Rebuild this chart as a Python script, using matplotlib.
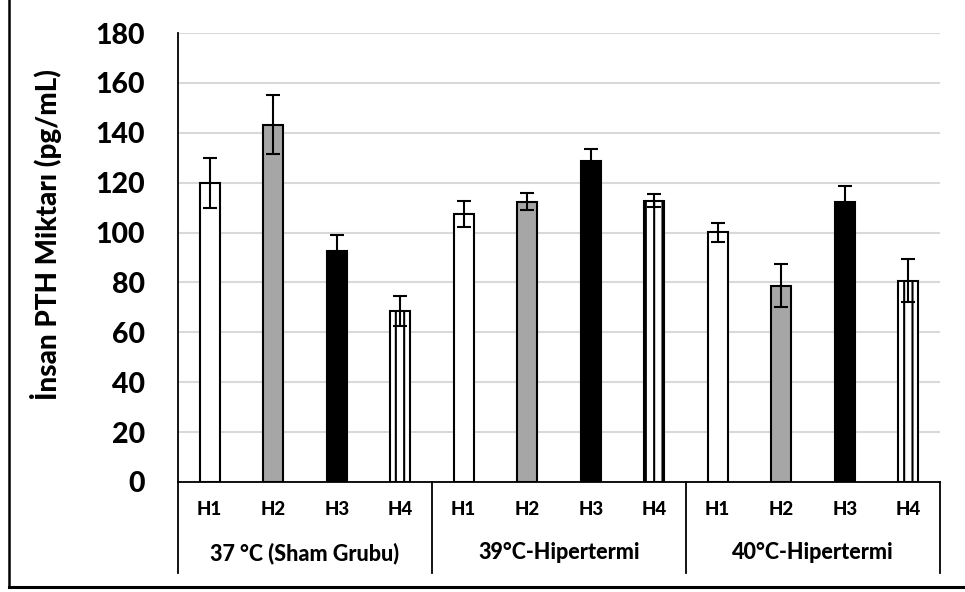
import matplotlib.pyplot as plt
import matplotlib.lines as mlines
from matplotlib import font_manager as fm
import numpy as np


def bold_face():
    # Lato is the closest installed match to Calibri; heavy weight to look like Calibri Bold
    for name in ['Lato-Heavy.ttf', 'Lato-Bold.ttf']:
        for f in fm.fontManager.ttflist:
            if f.fname.endswith(name):
                return f.fname
    return fm.findfont(fm.FontProperties(family='DejaVu Sans', weight='bold'))


BOLD = bold_face()


def fp(size):
    return fm.FontProperties(fname=BOLD, size=size)


plt.rcParams['hatch.linewidth'] = 1.5

groups = ['37 °C (Sham Grubu)', '39°C-Hipertermi', '40°C-Hipertermi']
subs = ['H1', 'H2', 'H3', 'H4']
values = [120, 143.3, 92.6, 68.7,
          107.5, 112.4, 128.6, 112.8,
          100.1, 78.7, 112.4, 80.7]
errors = [10, 12, 6.6, 6,
          5.3, 3.4, 4.8, 2.5,
          3.7, 8.5, 6.3, 8.7]
colors = ['white', '#a6a6a6', 'black', 'white']
hatches = ['', '', '', '||']

fig = plt.figure(figsize=(9.65, 5.92), dpi=100)
ax = fig.add_axes([178/965, 110/592, 762/965, 449/592])

x = np.arange(len(values))
for i in x:
    k = i % 4
    ax.bar(i, values[i], width=0.31, color=colors[k], edgecolor='black',
           linewidth=1.5, hatch=hatches[k], zorder=3)
ax.errorbar(x, values, yerr=errors, fmt='none', ecolor='black',
            elinewidth=1.5, capsize=5, capthick=1.5, zorder=4)

ax.set_ylim(0, 180)
ax.set_xlim(-0.5, len(values) - 0.5)
ax.set_yticks(np.arange(0, 181, 20))
ax.yaxis.grid(True, color='#d9d9d9', linewidth=1.5, zorder=0)
ax.tick_params(axis='y', length=0, pad=24)
ax.tick_params(axis='x', length=0, labelbottom=False)
for lbl in ax.get_yticklabels():
    lbl.set_fontproperties(fp(20.5))
for s in ['top', 'right']:
    ax.spines[s].set_visible(False)
ax.spines['left'].set_linewidth(1.3)
ax.spines['bottom'].set_linewidth(1.3)

ax.set_ylabel('İnsan PTH Miktarı (pg/mL)', fontproperties=fp(20))
ax.yaxis.set_label_coords(-0.152, 0.55)

# category box below the axis
trans = ax.get_xaxis_transform()
box_bottom = -(573 - 482) / 449
for b in [-0.5, 3.5, 7.5, 11.5]:
    ax.plot([b, b], [0, box_bottom], color='black', linewidth=1.3,
            transform=trans, clip_on=False)
for i in x:
    ax.text(i, -0.062, subs[i % 4], transform=trans, ha='center', va='center',
            fontproperties=fp(13.5))
for g, name in enumerate(groups):
    ax.text(g * 4 + 1.5, -0.158, name, transform=trans, ha='center', va='center',
            fontproperties=fp(15.5))

# outer border (left and bottom)
fig.add_artist(mlines.Line2D([9/965, 9/965], [5/592, 1], color='black', linewidth=1.8))
fig.add_artist(mlines.Line2D([9/965, 1], [5/592, 5/592], color='black', linewidth=2.2))

fig.savefig('out.png', dpi=100)
